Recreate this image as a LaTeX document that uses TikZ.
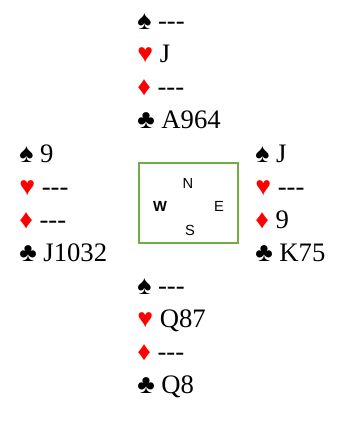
\documentclass[tikz,border=0pt]{standalone}
\usepackage{fontspec}
\setmainfont{Liberation Serif}
\newfontfamily\dirfont{Liberation Sans}
\usepackage{xcolor}
\usepackage{tikz}
\usetikzlibrary{positioning}
\definecolor{bdgreen}{HTML}{70AD47}
\definecolor{bdred}{HTML}{FF0000}
\newcommand{\spadesym}{♠}
\newcommand{\heartsym}{\textcolor{bdred}{♥}}
\newcommand{\diamsym}{\textcolor{bdred}{♦}}
\newcommand{\clubsym}{♣}
\newcommand{\void}{-{}-{}-}
\tikzset{
  hand/.style={align=left, inner sep=0pt, anchor=base west,
               font=\fontsize{20}{24.75}\selectfont},
  compassbox/.style={draw=bdgreen, line width=1.5pt, minimum width=74.25pt,
                     minimum height=60pt, inner sep=0pt},
  dir/.style={font=\dirfont\fontsize{11}{12}\selectfont, inner sep=0pt},
}
\begin{document}
\begin{tikzpicture}[x=0.75pt,y=-0.75pt]
\useasboundingbox (0,0) rectangle (346,421);
% --- hands (anchored at the club line)
\node[hand] (north) at (137,128) {\spadesym\ \void\\\heartsym\ J\\\diamsym\ \void\\\clubsym\ A964};
\node[hand] (west) at (19,261) {\spadesym\ 9\\\heartsym\ \void\\\diamsym\ \void\\\clubsym\ J1032};
\node[hand] (east) at (255,261) {\spadesym\ J\\\heartsym\ \void\\\diamsym\ 9\\\clubsym\ K75};
\node[hand] (south) at (137,393) {\spadesym\ \void\\\heartsym\ Q87\\\diamsym\ \void\\\clubsym\ Q8};
% --- compass
\node[compassbox] (compass) at (188.5,203) {};
\node[dir] (n) at (188,183) {N};
\node[dir,font=\dirfont\fontsize{11}{12}\selectfont\bfseries] (w) at (160,206) {W};
\node[dir] (e) at (219,206) {E};
\node[dir] (s) at (190,230) {S};
\end{tikzpicture}
\end{document}
